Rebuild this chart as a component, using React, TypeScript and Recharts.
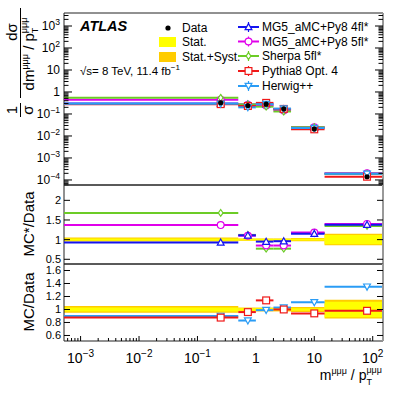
import React from "react";
import { ComposedChart, XAxis, YAxis, Scatter, ReferenceLine, ReferenceArea } from "recharts";

// bins in m/pT (first bin clipped at the left edge of the log axis)
const binEdges = [0.00052, 0.5, 1, 2, 4, 15, 150];
const binCenters = [0.25, 0.73, 1.5, 3, 10, 80];

// top panel: 1/sigma dsigma/d(m/pT)
const dataXsec = [0.32, 0.24, 0.28, 0.17, 0.021, 0.00014];
const mg4flXsec = [0.3, 0.27, 0.27, 0.165, 0.024, 0.00019];
const mg5flXsec = [0.44, 0.26, 0.24, 0.145, 0.025, 0.0002];
const sherpaXsec = [0.54, 0.27, 0.215, 0.13, 0.025, 0.00019];
const pythiaXsec = [0.28, 0.23, 0.32, 0.17, 0.02, 0.00014];
const herwigXsec = [0.29, 0.2, 0.28, 0.175, 0.023, 0.00019];

// MC*/Data
const mg4flRatio = [0.93, 1.11, 0.95, 0.96, 1.15, 1.38];
const mg5flRatio = [1.37, 1.1, 0.85, 0.85, 1.18, 1.4];
const sherpaRatio = [1.68, 1.12, 0.77, 0.77, 1.17, 1.35];
// MC/Data
const pythiaRatio = [0.875, 0.96, 1.14, 1.0, 0.94, 0.98];
const herwigRatio = [0.9, 0.83, 0.99, 1.03, 1.11, 1.35];

// uncertainty bands around 1
const statLo = [0.97, 0.98, 0.98, 0.98, 0.98, 0.88];
const statHi = [1.03, 1.02, 1.02, 1.02, 1.02, 1.12];
const totLo = [0.95, 0.97, 0.97, 0.97, 0.96, 0.86];
const totHi = [1.055, 1.03, 1.03, 1.03, 1.04, 1.15];

// axes
const yTicksMid = [0.5, 1, 1.5, 2];
const yTicksLow = [0.6, 0.8, 1, 1.2, 1.4, 1.6];

const X_MIN = binEdges[0];
const X_MAX = binEdges[binEdges.length - 1];
const TOP_DOMAIN = [5.9e-5, 3900];
const MID_DOMAIN = [0.38, 2.39];
const LOW_DOMAIN = [0.515, 1.7];

const FONT = "'Liberation Sans', Arial, Helvetica, sans-serif";
const PLOT_W = 319;
const PAD = 12;
const C = {
  mg4: "#1414f0",
  mg5: "#e000ea",
  sherpa: "#6ccc26",
  pythia: "#f01818",
  herwig: "#2a9cf5",
  stat: "#ffff00",
  tot: "#ffcc00",
};

const withMinors = (lo: number, hi: number) => {
  const out: number[] = [];
  for (let e = Math.floor(Math.log10(lo)); e < Math.ceil(Math.log10(hi)); e++) {
    for (let k = 1; k < 10; k++) {
      const v = k * Math.pow(10, e);
      if (v >= lo && v <= hi) out.push(v);
    }
  }
  return out;
};
const isDecade = (v: number) => Math.abs(Math.log10(v) - Math.round(Math.log10(v))) < 1e-6;
const xTicks = withMinors(X_MIN, X_MAX);
const yTicksTop = withMinors(TOP_DOMAIN[0], TOP_DOMAIN[1]);

const powLabel = (v: number, fs: number) => {
  const e = Math.round(Math.log10(v));
  if (e === 0) return "1";
  if (e === 1) return "10";
  return (
    <>
      10
      <tspan dy={-fs * 0.45} fontSize={fs * 0.72}>
        {e < 0 ? "\u2212" + -e : String(e)}
      </tspan>
    </>
  );
};

const makeXTick = (panelH: number, topTicks: boolean, labels: boolean) => (props: any) => {
  const { x, y, payload } = props;
  const major = isDecade(payload.value);
  const len = major ? 5 : 3;
  return (
    <g>
      <line x1={x} x2={x} y1={y} y2={y - len} stroke="#000" />
      {topTicks && <line x1={x} x2={x} y1={y - panelH} y2={y - panelH + len} stroke="#000" />}
      {labels && major && (
        <text x={x} y={y + 22} textAnchor="middle" fontSize={14} fontFamily={FONT} fill="#000">
          {powLabel(payload.value, 14)}
        </text>
      )}
    </g>
  );
};

const LogYTick = (props: any) => {
  const { x, y, payload } = props;
  const major = isDecade(payload.value);
  const len = major ? 8 : 4.5;
  return (
    <g>
      <line x1={x} x2={x + len} y1={y} y2={y} stroke="#000" />
      <line x1={x + PLOT_W} x2={x + PLOT_W - len} y1={y} y2={y} stroke="#000" />
      {major && (
        <text x={x - 4} y={y + 4} textAnchor="end" fontSize={12} fontFamily={FONT} fill="#000">
          {powLabel(payload.value, 12)}
        </text>
      )}
    </g>
  );
};

const LinYTick = (props: any) => {
  const { x, y, payload } = props;
  return (
    <g>
      <line x1={x} x2={x + 6} y1={y} y2={y} stroke="#000" />
      <line x1={x + PLOT_W} x2={x + PLOT_W - 6} y1={y} y2={y} stroke="#000" />
      <text x={x - 3} y={y + 4} textAnchor="end" fontSize={11} fontFamily={FONT} fill="#000">
        {payload.value}
      </text>
    </g>
  );
};

const Marker = ({ cx, cy, kind, color, s = 3.4 }: any) => {
  if (kind === "dot") return <circle cx={cx} cy={cy} r={2.6} fill="#000" />;
  const common = { fill: "#fff", stroke: color, strokeWidth: 1.2 };
  if (kind === "circ") return <circle cx={cx} cy={cy} r={s} {...common} />;
  if (kind === "sq") return <rect x={cx - s} y={cy - s} width={2 * s} height={2 * s} {...common} />;
  if (kind === "diam")
    return <polygon points={`${cx},${cy - s} ${cx + s * 0.7},${cy} ${cx},${cy + s} ${cx - s * 0.7},${cy}`} {...common} />;
  if (kind === "tri")
    return <polygon points={`${cx},${cy - s} ${cx + s},${cy + s * 0.8} ${cx - s},${cy + s * 0.8}`} {...common} />;
  return <polygon points={`${cx},${cy + s} ${cx + s},${cy - s * 0.8} ${cx - s},${cy - s * 0.8}`} {...common} />;
};

const points = (vals: number[]) => binCenters.map((x, i) => ({ x, y: vals[i] }));

const binLines = (vals: number[], color: string, key: string) =>
  vals.map((v, i) => (
    <ReferenceLine
      key={key + i}
      segment={[
        { x: binEdges[i], y: v },
        { x: binEdges[i + 1], y: v },
      ]}
      stroke={color}
      strokeWidth={2}
      ifOverflow="visible"
    />
  ));

const bands = (lo: number[], hi: number[], fill: string, key: string) =>
  lo.map((l, i) => (
    <ReferenceArea
      key={key + i}
      x1={binEdges[i]}
      x2={binEdges[i + 1]}
      y1={l}
      y2={hi[i]}
      fill={fill}
      fillOpacity={1}
      stroke="none"
      ifOverflow="visible"
    />
  ));

const markers = (vals: number[], kind: string, color: string, key: string) => (
  <Scatter
    key={key}
    data={points(vals)}
    isAnimationActive={false}
    shape={(p: any) => <Marker cx={p.cx} cy={p.cy} kind={kind} color={color} />}
  />
);

const Panel = ({ top, height, xAxisH, yDomain, yTicks, yScale, yTick, xTick, children }: any) => (
  <div style={{ position: "absolute", left: 0, top: top - PAD }}>
    <ComposedChart
      width={407}
      height={height + xAxisH + 2 * PAD}
      margin={{ top: PAD, right: 24, bottom: PAD, left: 0 }}
    >
      <XAxis
        dataKey="x"
        type="number"
        scale="log"
        domain={[X_MIN, X_MAX]}
        allowDataOverflow
        ticks={xTicks}
        interval={0}
        tickLine={false}
        axisLine={false}
        tickSize={0}
        tickMargin={0}
        height={xAxisH}
        tick={xTick}
      />
      <YAxis
        dataKey="y"
        type="number"
        scale={yScale}
        domain={yDomain}
        allowDataOverflow
        ticks={yTicks}
        interval={0}
        tickLine={false}
        axisLine={false}
        tickSize={0}
        tickMargin={0}
        width={64}
        tick={yTick}
      />
      {children}
      <ReferenceArea
        x1={X_MIN}
        x2={X_MAX}
        y1={yDomain[0]}
        y2={yDomain[1]}
        fill="none"
        stroke="#222"
        strokeWidth={1}
        ifOverflow="visible"
      />
      <ReferenceLine x={X_MAX} stroke="#999" strokeWidth={2} ifOverflow="visible" />
    </ComposedChart>
  </div>
);

const LegendLine = ({ y, color, kind, text }: any) => (
  <g>
    <line x1={238} x2={259} y1={y} y2={y} stroke={color} strokeWidth={2} />
    <line x1={248.5} x2={248.5} y1={y - 5} y2={y + 5} stroke={color} strokeWidth={1.2} />
    <Marker cx={248.5} cy={y} kind={kind} color={color} />
    <text x={262} y={y + 4.3} fontSize={12} fill="#000">
      {text}
    </text>
  </g>
);

const App = () => {
  return (
    <div style={{ position: "absolute", left: 0, top: 0, width: 407, height: 397, background: "#fff" }}>
      <Panel
        top={13}
        height={172}
        xAxisH={0}
        yDomain={TOP_DOMAIN}
        yTicks={yTicksTop}
        yScale="log"
        yTick={LogYTick}
        xTick={makeXTick(172, true, false)}
      >
        {binLines(mg4flXsec, C.mg4, "t4")}
        {binLines(mg5flXsec, C.mg5, "t5")}
        {binLines(sherpaXsec, C.sherpa, "ts")}
        {binLines(pythiaXsec, C.pythia, "tp")}
        {binLines(herwigXsec, C.herwig, "th")}
        {markers(mg4flXsec, "tri", C.mg4, "m4")}
        {markers(mg5flXsec, "circ", C.mg5, "m5")}
        {markers(sherpaXsec, "diam", C.sherpa, "ms")}
        {markers(pythiaXsec, "sq", C.pythia, "mp")}
        {markers(herwigXsec, "tridn", C.herwig, "mh")}
        {markers(dataXsec, "dot", "#000", "md")}
      </Panel>
      <Panel
        top={185}
        height={79}
        xAxisH={0}
        yDomain={MID_DOMAIN}
        yTicks={yTicksMid}
        yScale="linear"
        yTick={LinYTick}
        xTick={makeXTick(79, false, false)}
      >
        {bands(totLo, totHi, C.tot, "bt")}
        {bands(statLo, statHi, C.stat, "bs")}
        {binLines(sherpaRatio, C.sherpa, "rs")}
        {binLines(mg5flRatio, C.mg5, "r5")}
        {binLines(mg4flRatio, C.mg4, "r4")}
        {markers(sherpaRatio, "diam", C.sherpa, "ks")}
        {markers(mg5flRatio, "circ", C.mg5, "k5")}
        {markers(mg4flRatio, "tri", C.mg4, "k4")}
      </Panel>
      <Panel
        top={264}
        height={77}
        xAxisH={45}
        yDomain={LOW_DOMAIN}
        yTicks={yTicksLow}
        yScale="linear"
        yTick={LinYTick}
        xTick={makeXTick(77, false, true)}
      >
        {bands(totLo, totHi, C.tot, "ct")}
        {bands(statLo, statHi, C.stat, "cs")}
        {binLines(herwigRatio, C.herwig, "qh")}
        {binLines(pythiaRatio, C.pythia, "qp")}
        {markers(herwigRatio, "tridn", C.herwig, "nh")}
        {markers(pythiaRatio, "sq", C.pythia, "np")}
      </Panel>

      <svg
        width={407}
        height={397}
        style={{ position: "absolute", left: 0, top: 0, pointerEvents: "none" }}
        fontFamily={FONT}
      >
        <text x={80} y={31} fontSize={14.5} fontWeight="bold" fontStyle="italic">
          ATLAS
        </text>
        <text x={80} y={75} fontSize={11.5}>
          √s= 8 TeV, 11.4 fb
          <tspan dy={-5} fontSize={8}>
            −1
          </tspan>
        </text>

        {/* legend, left column */}
        <circle cx={168} cy={28} r={2.6} fill="#000" />
        <text x={182} y={32.3} fontSize={12}>Data</text>
        <rect x={159} y={37} width={17} height={10} fill={C.stat} />
        <text x={182} y={46} fontSize={12}>Stat.</text>
        <rect x={159} y={52} width={17} height={10} fill={C.tot} />
        <text x={182} y={61.3} fontSize={12}>Stat.+Syst.</text>

        {/* legend, right column */}
        <LegendLine y={27} color={C.mg4} kind="tri" text="MG5_aMC+Py8 4fl*" />
        <LegendLine y={41.5} color={C.mg5} kind="circ" text="MG5_aMC+Py8 5fl*" />
        <LegendLine y={56} color={C.sherpa} kind="diam" text="Sherpa 5fl*" />
        <LegendLine y={71} color={C.pythia} kind="sq" text="Pythia8 Opt. 4" />
        <LegendLine y={86} color={C.herwig} kind="tridn" text="Herwig++" />

        {/* y titles */}
        <g fontSize={15}>
          <text transform="rotate(-90, 17, 110)" x={17} y={110} textAnchor="middle">1</text>
          <line x1={20.5} x2={20.5} y1={103} y2={117} stroke="#000" />
          <text transform="rotate(-90, 33, 110)" x={33} y={110} textAnchor="middle">σ</text>
          <text transform="rotate(-90, 17, 32)" x={17} y={32} textAnchor="middle">dσ</text>
          <line x1={20.5} x2={20.5} y1={8} y2={98} stroke="#000" />
          <text transform="rotate(-90, 34, 54)" x={34} y={54} textAnchor="middle">
            dm
            <tspan dy={-6} fontSize={9}>μμμ</tspan>
            <tspan dy={6}> / p</tspan>
            <tspan dy={4} fontSize={9}>T</tspan>
            <tspan dx={-5.5} dy={-11} fontSize={9}>μμμ</tspan>
          </text>
          <text transform="rotate(-90, 34, 224)" x={34} y={224} textAnchor="middle">MC*/Data</text>
          <text transform="rotate(-90, 34, 302)" x={34} y={302} textAnchor="middle">MC/Data</text>
        </g>

        {/* x title */}
        <text x={382} y={380} textAnchor="end" fontSize={14}>
          m
          <tspan dy={-6} fontSize={9}>μμμ</tspan>
          <tspan dy={6}> / p</tspan>
          <tspan dy={5} fontSize={9}>T</tspan>
          <tspan dx={-5.5} dy={-12} fontSize={9}>μμμ</tspan>
        </text>
      </svg>
    </div>
  );
};

export default App;
